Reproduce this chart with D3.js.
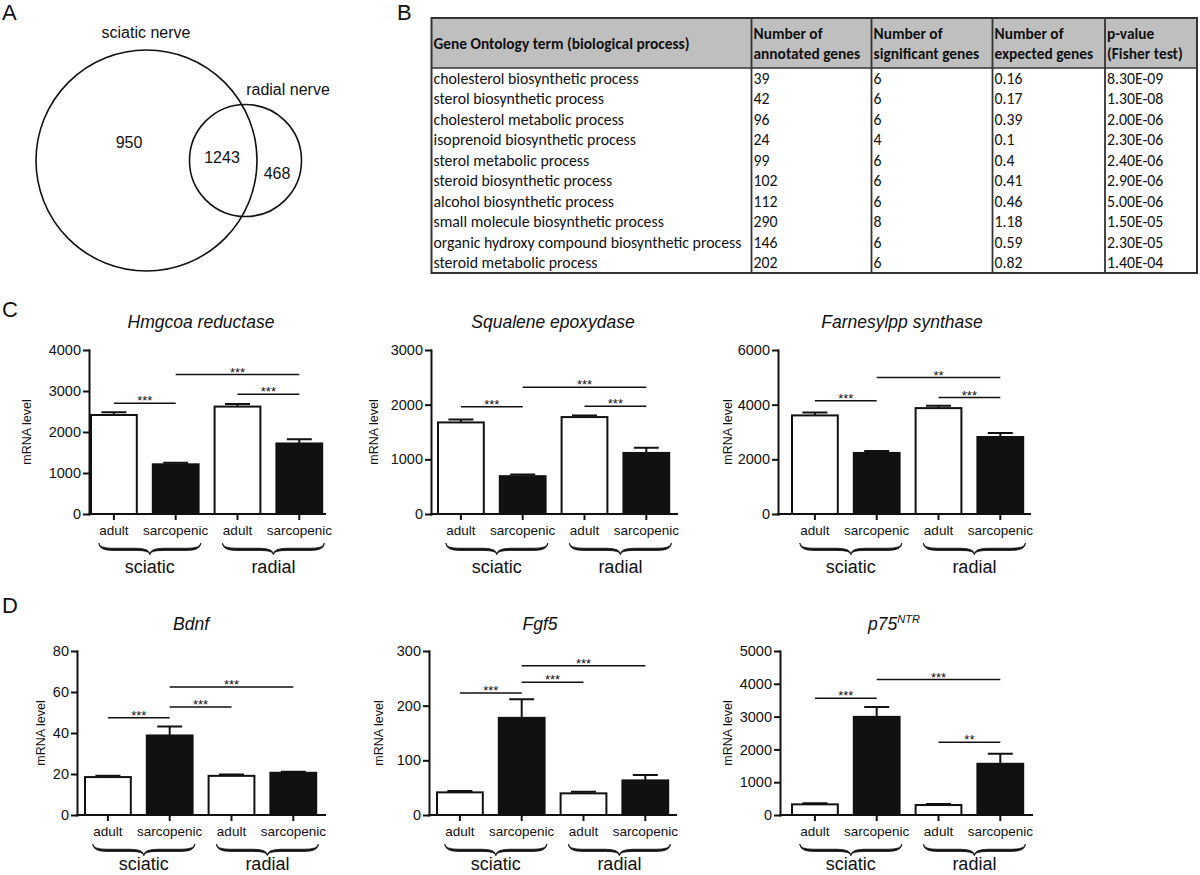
<!DOCTYPE html>
<html>
<head>
<meta charset="utf-8">
<script src="https://cdn.jsdelivr.net/npm/d3@7"></script>
<style>
  body { margin: 0; background: #fff; }
  svg { display: block; font-family: "Liberation Sans", Arial, sans-serif; }
  .tbl text { font-family: Carlito, Lato, sans-serif; fill: #111; }
</style>
</head>
<body>
<svg id="fig" width="1200" height="875"></svg>
<script>
// ---- panel A: venn ----
const vennSets = ['sciatic nerve', 'radial nerve'];
const vennCounts = [950, 1243, 468];

// ---- panel B: GO table ----
const tableHeader = [
  ['Gene Ontology term (biological process)'],
  ['Number of', 'annotated genes'],
  ['Number of', 'significant genes'],
  ['Number of', 'expected genes'],
  ['p-value', '(Fisher test)']
];
const goTerms = [
  'cholesterol biosynthetic process',
  'sterol biosynthetic process',
  'cholesterol metabolic process',
  'isoprenoid biosynthetic process',
  'sterol metabolic process',
  'steroid biosynthetic process',
  'alcohol biosynthetic process',
  'small molecule biosynthetic process',
  'organic hydroxy compound biosynthetic process',
  'steroid metabolic process'
];
const annotated = [39, 42, 96, 24, 99, 102, 112, 290, 146, 202];
const significant = [6, 6, 6, 4, 6, 6, 6, 8, 6, 6];
const expected = ['0.16', '0.17', '0.39', '0.1', '0.4', '0.41', '0.46', '1.18', '0.59', '0.82'];
const pvalues = ['8.30E-09', '1.30E-08', '2.00E-06', '2.30E-06', '2.40E-06',
                 '2.90E-06', '5.00E-06', '1.50E-05', '2.30E-05', '1.40E-04'];

// ---- panels C, D: mRNA bar charts ----
const categories = ['adult', 'sarcopenic', 'adult', 'sarcopenic'];
const nerves = ['sciatic', 'radial'];
const genes = ['Hmgcoa reductase', 'Squalene epoxydase', 'Farnesylpp synthase', 'Bdnf', 'Fgf5', 'p75'];
const means = [
  [2415, 1212, 2620, 1720],
  [1675, 692, 1773, 1117],
  [3607, 2234, 3874, 2817],
  [18.5, 38.8, 19.1, 20.6],
  [41.4, 177.7, 39.6, 63.3],
  [325, 2992, 304, 1562]
];
const sems = [
  [65, 40, 60, 105],
  [55, 30, 30, 97],
  [109, 73, 85, 146],
  [0.6, 4.4, 0.7, 0.5],
  [2.4, 34.1, 3.0, 9.7],
  [30, 304, 31, 304]
];
const yTicks = [
  [0, 1000, 2000, 3000, 4000],
  [0, 1000, 2000, 3000],
  [0, 2000, 4000, 6000],
  [0, 20, 40, 60, 80],
  [0, 100, 200, 300],
  [0, 1000, 2000, 3000, 4000, 5000]
];
// [from bar, to bar, height (data units), label]
const sigBars = [
  [[0, 1, 2700, '***'], [1, 3, 3400, '***'], [2, 3, 2920, '***']],
  [[0, 1, 1960, '***'], [1, 3, 2320, '***'], [2, 3, 1973, '***']],
  [[0, 1, 4141, '***'], [1, 3, 4991, '**'], [2, 3, 4262, '***']],
  [[0, 1, 47.4, '***'], [1, 2, 52.7, '***'], [1, 3, 62.5, '***']],
  [[0, 1, 223, '***'], [1, 2, 243, '***'], [1, 3, 273, '***']],
  [[0, 1, 3560, '***'], [1, 3, 4128, '***'], [2, 3, 2221, '**']]
];

// layout
const rows = [
  {top: 350, zero: 514, titleY: 328, groupY: 573},
  {top: 651, zero: 815, titleY: 630, groupY: 870}
];
const panels = [
  {row: 0, ax: 89, bar0: 90, axEnd: 325, ylab: 27, tx: 201},
  {row: 0, ax: 431, bar0: 437, axEnd: 677, ylab: 374, tx: 553},
  {row: 0, ax: 778, bar0: 791, axEnd: 1030, ylab: 728, tx: 902},
  {row: 1, ax: 77, bar0: 84, axEnd: 325, ylab: 41, tx: 191},
  {row: 1, ax: 429, bar0: 436, axEnd: 676, ylab: 379, tx: 540},
  {row: 1, ax: 780, bar0: 791, axEnd: 1032, ylab: 728, tx: 894}
];

const svg = d3.select('#fig');
const ink = '#111';

// panel letters
[['A', 2, 20], ['B', 397, 20], ['C', 2, 317], ['D', 2, 613]].forEach(([t, x, y]) => {
  svg.append('text').attr('x', x).attr('y', y)
    .attr('font-size', 22).attr('fill', ink).text(t);
});

// ---- venn ----
const venn = svg.append('g');
const circles = [{cx: 146.5, cy: 160.5, r: 110.5}, {cx: 245.5, cy: 160.5, r: 56}];
venn.selectAll('circle').data(circles).enter().append('circle')
  .attr('cx', d => d.cx).attr('cy', d => d.cy).attr('r', d => d.r)
  .attr('fill', 'none').attr('stroke', ink).attr('stroke-width', 1.6);

const vennLabelPos = [[146, 37.5], [288, 94.5]];
venn.selectAll('.setlabel').data(vennSets).enter().append('text')
  .attr('x', (d, i) => vennLabelPos[i][0]).attr('y', (d, i) => vennLabelPos[i][1])
  .attr('text-anchor', 'middle').attr('font-size', 16).attr('fill', ink)
  .text(d => d);

const vennCountPos = [[129, 147.5], [222, 162.5], [277, 178.5]];
venn.selectAll('.count').data(vennCounts).enter().append('text')
  .attr('x', (d, i) => vennCountPos[i][0]).attr('y', (d, i) => vennCountPos[i][1])
  .attr('text-anchor', 'middle').attr('font-size', 16).attr('fill', ink)
  .text(d => d);

// ---- table ----
const tbl = svg.append('g').attr('class', 'tbl');
const cols = [431.5, 751.5, 871.5, 992.5, 1105, 1197];
const tTop = 18, hBot = 68, rowH = 20.5;
const tBot = hBot + rowH * goTerms.length;
const tableRows = goTerms.map((t, i) => [t, annotated[i], significant[i], expected[i], pvalues[i]]);

tbl.append('rect').attr('x', cols[0]).attr('y', tTop)
  .attr('width', cols[5] - cols[0]).attr('height', hBot - tTop).attr('fill', '#bfbfbf');

tableHeader.forEach((lines, c) => {
  const t = tbl.append('text').attr('font-size', 15.4).attr('font-weight', 'bold');
  const mid = (tTop + hBot) / 2;
  lines.forEach((ln, j) => {
    const cy = lines.length === 1 ? mid : mid + (j - 0.5) * 20;
    t.append('tspan').attr('x', cols[c] + 2).attr('y', cy + 5.5).text(ln);
  });
});

tableRows.forEach((r, i) => {
  const cy = hBot + rowH * (i + 0.5);
  r.forEach((v, c) => {
    tbl.append('text').attr('x', cols[c] + 2).attr('y', cy + 5.5)
      .attr('font-size', 15.8).text(v);
  });
});

tbl.append('line').attr('x1', cols[0]).attr('x2', cols[5]).attr('y1', hBot).attr('y2', hBot)
  .attr('stroke', '#333').attr('stroke-width', 1.5);
cols.slice(1, 5).forEach(x => {
  tbl.append('line').attr('x1', x).attr('x2', x).attr('y1', tTop).attr('y2', tBot)
    .attr('stroke', '#333').attr('stroke-width', 1.8);
});
tbl.append('rect').attr('x', cols[0]).attr('y', tTop)
  .attr('width', cols[5] - cols[0]).attr('height', tBot - tTop)
  .attr('fill', 'none').attr('stroke', '#333').attr('stroke-width', 2);

// ---- bar charts ----
function brace(xl, xr, y0, h, t) {
  const xm = (xl + xr) / 2, a = 14;
  const yo = y0 + h * 0.55 + t / 2, yi = y0 + h * 0.55 - t / 2, tip = y0 + h;
  return `M${xl},${y0}Q${xl},${yo} ${xl + a},${yo}L${xm - a},${yo}Q${xm},${yo} ${xm},${tip}` +
    `Q${xm},${yo} ${xm + a},${yo}L${xr - a},${yo}Q${xr},${yo} ${xr},${y0}` +
    `Q${xr},${yi} ${xr - a},${yi}L${xm + a},${yi}Q${xm},${yi} ${xm},${tip}` +
    `Q${xm},${yi} ${xm - a},${yi}L${xl + a},${yi}Q${xl},${yi} ${xl},${y0}Z`;
}

const step = 61.8, gap = 14;

panels.forEach((p, k) => {
  const r = rows[p.row];
  const g = svg.append('g');

  const x = d3.scaleBand().domain(d3.range(categories.length))
    .range([p.bar0 - gap / 2, p.bar0 - gap / 2 + categories.length * step])
    .paddingInner(gap / step).paddingOuter(gap / step / 2);
  const bw = x.bandwidth();
  const cx = i => x(i) + bw / 2;
  const y = d3.scaleLinear().domain([0, d3.max(yTicks[k])]).range([r.zero, r.top]);

  const data = means[k].map((m, i) => ({i, m, e: sems[k][i]}));

  // error bars (upward only)
  g.selectAll('.err').data(data).enter().append('path')
    .attr('d', d => `M${cx(d.i)},${y(d.m)}V${y(d.m + d.e)}M${cx(d.i) - 12.5},${y(d.m + d.e)}H${cx(d.i) + 12.5}`)
    .attr('stroke', ink).attr('stroke-width', 2).attr('fill', 'none');

  g.selectAll('.bar').data(data).enter().append('rect')
    .attr('x', d => x(d.i) + 1).attr('width', bw - 2)
    .attr('y', d => y(d.m)).attr('height', d => r.zero - y(d.m))
    .attr('fill', d => d.i % 2 ? ink : '#fff')
    .attr('stroke', ink).attr('stroke-width', 2);

  // axes
  const ya = g.append('g').attr('transform', `translate(${p.ax},0)`)
    .call(d3.axisLeft(y).tickValues(yTicks[k]).tickFormat(d3.format('d'))
      .tickSize(5).tickSizeOuter(0).tickPadding(3));
  const xa = g.append('g').attr('transform', `translate(0,${r.zero})`)
    .call(d3.axisBottom(x).tickSize(5).tickSizeOuter(0).tickPadding(6).tickFormat(i => categories[i]));
  xa.select('.domain').attr('d', `M${p.ax},0H${p.axEnd}`);
  [ya, xa].forEach(a => {
    a.selectAll('path, line').attr('stroke', ink).attr('stroke-width', 2).attr('stroke-linecap', 'square');
    a.selectAll('text').attr('fill', ink).attr('font-family', '"Liberation Sans", Arial, sans-serif');
  });
  ya.selectAll('text').attr('font-size', 14.5);
  xa.selectAll('text').attr('font-size', 13.5);

  // y label
  g.append('text')
    .attr('transform', `translate(${p.ylab},${(r.zero + r.top) / 2}) rotate(-90)`)
    .attr('text-anchor', 'middle').attr('dy', '0.35em')
    .attr('font-size', 12.5).attr('fill', ink).text('mRNA level');

  // title
  const title = g.append('text').attr('x', p.tx).attr('y', r.titleY)
    .attr('text-anchor', 'middle').attr('font-size', 17.5)
    .attr('font-style', 'italic').attr('fill', ink).text(genes[k]);
  if (genes[k] === 'p75') {
    title.append('tspan').attr('font-size', 11).attr('dy', -7).text('NTR');
  }

  // significance lines
  sigBars[k].forEach(([a, b, v, lab]) => {
    g.append('line').attr('x1', cx(a)).attr('x2', cx(b)).attr('y1', y(v)).attr('y2', y(v))
      .attr('stroke', ink).attr('stroke-width', 1.5);
    g.append('text').attr('x', (cx(a) + cx(b)) / 2).attr('y', y(v) + 2)
      .attr('text-anchor', 'middle').attr('font-size', 13).attr('fill', ink).text(lab);
  });

  // nerve braces + labels
  nerves.forEach((n, gi) => {
    const c = (cx(2 * gi) + cx(2 * gi + 1)) / 2 + 5;
    g.append('path').attr('d', brace(c - 51, c + 51, r.zero + 29, 11.5, 2.2))
      .attr('fill', ink).attr('stroke', ink).attr('stroke-width', 0.8);
    g.append('text').attr('x', c).attr('y', r.groupY)
      .attr('text-anchor', 'middle').attr('font-size', 18).attr('fill', ink).text(n);
  });
});
</script>
</body>
</html>
